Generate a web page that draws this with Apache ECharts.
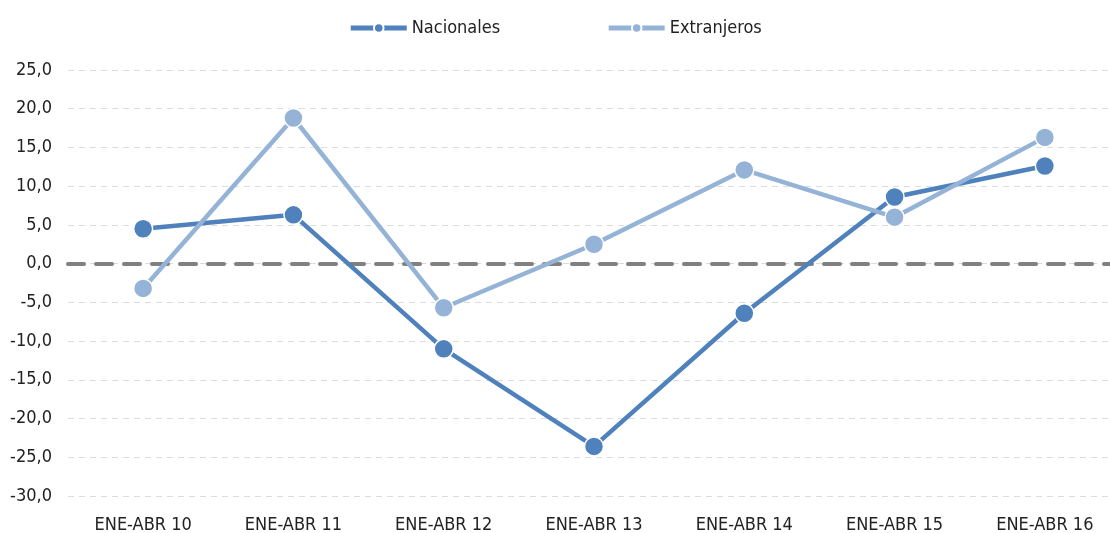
<!DOCTYPE html>
<html>
<head>
<meta charset="utf-8">
<script src="https://cdn.jsdelivr.net/npm/echarts@6/dist/echarts.min.js"></script>
<style>
html, body { margin: 0; padding: 0; background: #fff; }
#chart { width: 1110px; height: 533px; }
</style>
</head>
<body>
<div id="chart"></div>
<script>
// periodos enero-abril
const categories = ['ENE-ABR 10', 'ENE-ABR 11', 'ENE-ABR 12', 'ENE-ABR 13', 'ENE-ABR 14', 'ENE-ABR 15', 'ENE-ABR 16'];
const nacionales = [4.5, 6.3, -11.0, -23.6, -6.4, 8.6, 12.6];
const extranjeros = [-3.2, 18.8, -5.7, 2.5, 12.1, 6.0, 16.3];

const font = '"Liberation Sans Narrow", "DejaVu Sans Condensed", Roboto, sans-serif';

const chart = echarts.init(document.getElementById('chart'));
const option = {
  animation: false,
  textStyle: { fontFamily: font },
  legend: {
    top: 14,
    left: 'center',
    itemWidth: 56,
    itemHeight: 12,
    itemGap: 106,
    lineStyle: { width: 5 },
    textStyle: { fontSize: 18, color: '#222', fontFamily: font },
    data: ['Nacionales', 'Extranjeros']
  },
  grid: {
    left: 68,
    width: 1052,
    top: 70,
    bottom: 37,
    outerBoundsMode: 'none'
  },
  xAxis: {
    type: 'category',
    data: categories,
    boundaryGap: true,
    axisTick: { show: false },
    axisLine: {
      onZero: true,
      lineStyle: { color: '#808080', width: 4, type: [16, 12] }
    },
    axisLabel: {
      fontSize: 18,
      color: '#222',
      margin: 20,
      fontFamily: font
    },
    position: 'bottom'
  },
  yAxis: {
    type: 'value',
    min: -30,
    max: 25,
    interval: 5,
    axisLine: { show: false },
    axisTick: { show: false },
    axisLabel: {
      fontSize: 18,
      color: '#222',
      margin: 16,
      fontFamily: font,
      formatter: v => v.toFixed(1).replace('.', ',')
    },
    splitLine: {
      lineStyle: { color: '#dcdcdc', width: 1, type: [6, 5] }
    }
  },
  series: [
    {
      name: 'Nacionales',
      type: 'line',
      data: nacionales,
      symbol: 'circle',
      symbolSize: 19,
      lineStyle: { color: '#4f81bd', width: 4.5 },
      itemStyle: { color: '#4f81bd', borderColor: '#fff', borderWidth: 1.5 }
    },
    {
      name: 'Extranjeros',
      type: 'line',
      data: extranjeros,
      symbol: 'circle',
      symbolSize: 19,
      lineStyle: { color: '#95b3d7', width: 4.5 },
      itemStyle: { color: '#95b3d7', borderColor: '#fff', borderWidth: 1.5 }
    }
  ]
};
chart.setOption(option);
</script>
</body>
</html>
